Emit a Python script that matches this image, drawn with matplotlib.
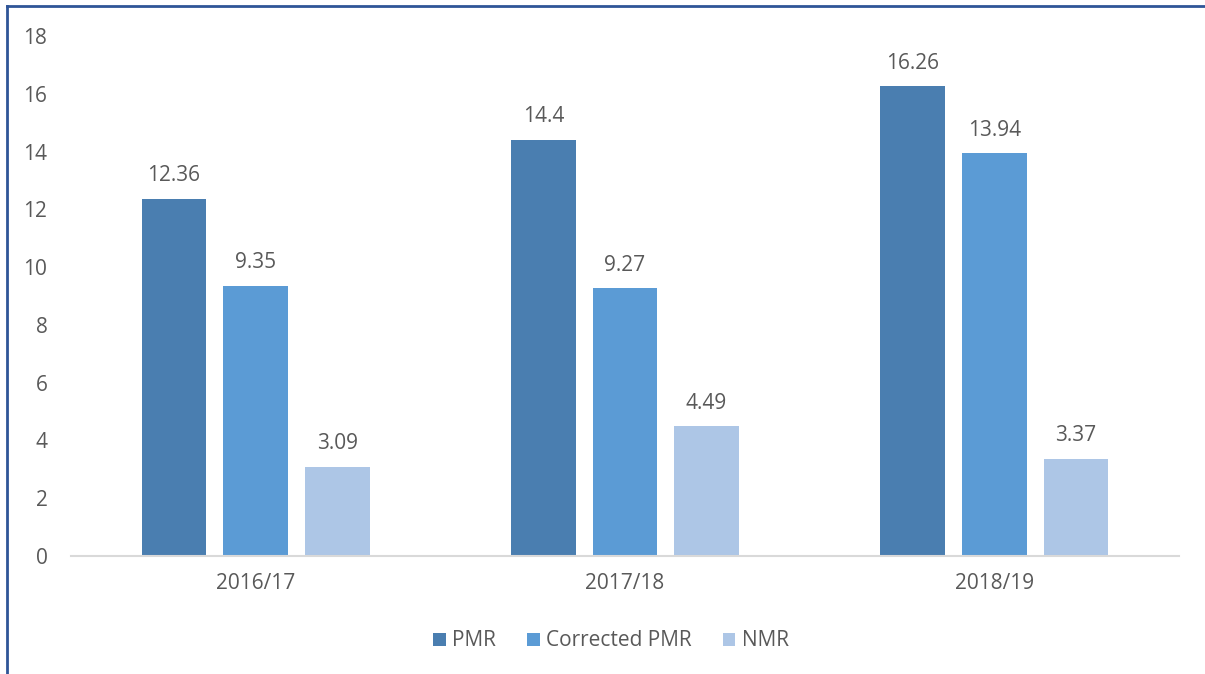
import numpy as np
import matplotlib
matplotlib.use('Agg')
import matplotlib.pyplot as plt
from matplotlib.lines import Line2D

years = ['2016/17', '2017/18', '2018/19']
pmr = [12.36, 14.4, 16.26]
corrected_pmr = [9.35, 9.27, 13.94]
nmr = [3.09, 4.49, 3.37]
series_names = ['PMR', 'Corrected PMR', 'NMR']
colors = ['#4a7eb0', '#5b9bd5', '#adc6e6']
yticks = [0, 2, 4, 6, 8, 10, 12, 14, 16, 18]

plt.rcParams['font.family'] = ['Open Sans', 'DejaVu Sans']
textcol = '#595959'
fs = 15

fig = plt.figure(figsize=(12.05, 6.74), dpi=100)
ax = fig.add_axes([71/1205, 1-556/674, (1179-71)/1205, (556-36)/674])

x = np.arange(len(years))
width = 0.175
step = 0.221
for i, (vals, name) in enumerate(zip([pmr, corrected_pmr, nmr], series_names)):
    pos = x + (i - 1) * step
    ax.bar(pos, vals, width, color=colors[i], label=name)
    for p, v in zip(pos, vals):
        ax.annotate('%g' % v, (p, v), xytext=(0, 9), textcoords='offset points',
                    ha='center', va='bottom', fontsize=fs, color=textcol)

ax.set_xlim(-0.5, 2.5)
ax.set_ylim(0, 18)
ax.set_yticks(yticks)
ax.set_xticks(x)
ax.set_xticklabels(years)
for s in ['top', 'right', 'left']:
    ax.spines[s].set_visible(False)
ax.spines['bottom'].set_color('#d9d9d9')
ax.spines['bottom'].set_linewidth(1.5)
ax.tick_params(axis='both', length=0, labelsize=fs, colors=textcol)
ax.tick_params(axis='y', pad=17)
ax.tick_params(axis='x', pad=12)

leg = fig.legend(loc='center', bbox_to_anchor=(611/1205, 1-641/674), ncol=3, frameon=False,
                 fontsize=fs, handlelength=0.6, handleheight=0.6, handletextpad=0.3,
                 columnspacing=1.5)
for t in leg.get_texts():
    t.set_color(textcol)

# outer border on left and top
fig.add_artist(Line2D([7/1205, 7/1205], [0, 1-6/674], color='#2f5597', lw=2, transform=fig.transFigure))
fig.add_artist(Line2D([7/1205, 1], [1-6/674, 1-6/674], color='#2f5597', lw=2, transform=fig.transFigure))

fig.savefig('out.png', dpi=100)
